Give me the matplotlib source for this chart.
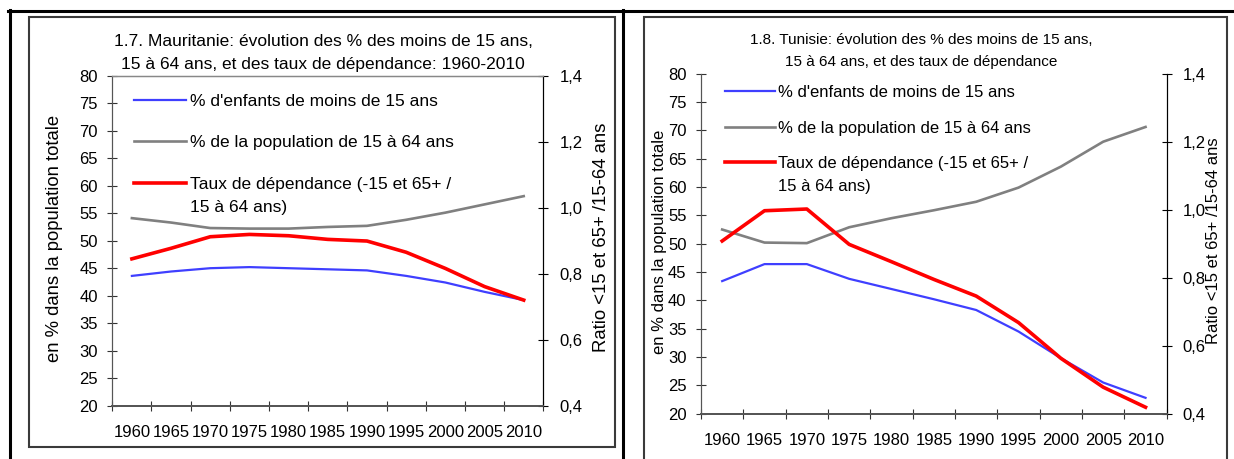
import numpy as np
import matplotlib.pyplot as plt
from matplotlib.lines import Line2D
from matplotlib.patches import Rectangle
from matplotlib.ticker import FixedLocator, FuncFormatter

plt.rcParams['font.family'] = ['Liberation Sans', 'DejaVu Sans']

years = [1960, 1965, 1970, 1975, 1980, 1985, 1990, 1995, 2000, 2005, 2010]

# Mauritanie
mrt_enfants = [43.6, 44.4, 45.0, 45.2, 45.0, 44.8, 44.6, 43.6, 42.4, 40.7, 39.2]
mrt_actifs = [54.1, 53.3, 52.3, 52.2, 52.2, 52.5, 52.7, 53.8, 55.1, 56.6, 58.1]
mrt_dep = [0.845, 0.877, 0.912, 0.919, 0.915, 0.904, 0.899, 0.865, 0.816, 0.761, 0.72]

# Tunisie
tun_enfants = [43.4, 46.4, 46.4, 43.8, 42.0, 40.2, 38.3, 34.5, 29.8, 25.5, 22.8]
tun_actifs = [52.5, 50.2, 50.1, 52.9, 54.5, 55.9, 57.4, 59.9, 63.6, 68.0, 70.6]
tun_dep = [0.908, 0.997, 1.002, 0.898, 0.847, 0.795, 0.746, 0.668, 0.563, 0.478, 0.419]

lbl_enfants = "% d'enfants de moins de 15 ans"
lbl_actifs = "% de la population de 15 à 64 ans"
lbl_dep = "Taux de dépendance (-15 et 65+ /"
lbl_dep2 = "15 à 64 ans)"

W, H = 1234, 459


def fx(px):
    return px / W


def fy(py):
    return 1 - py / H


def panel(fig, rect, title, title_xy, series, ylab_pos, rlab_pos, top_line,
          leg_anchor, leg_spacing, fs):
    enfants, actifs, dep = series
    ax = fig.add_axes(rect)
    ax2 = ax.twinx()
    x = np.arange(len(years))

    p1, = ax.plot(x, enfants, color='#3f3fff', lw=1.6)
    p2, = ax.plot(x, actifs, color='#808080', lw=1.9)
    p3, = ax2.plot(x, dep, color='#ff0000', lw=2.6)

    ax.set_xlim(-0.5, len(years) - 0.5)
    ax.set_ylim(20, 80)
    ax.set_yticks(np.arange(20, 81, 5))
    ax2.set_ylim(0.4, 1.4)
    ax2.set_yticks([0.4, 0.6, 0.8, 1.0, 1.2, 1.4])
    ax2.yaxis.set_major_formatter(FuncFormatter(lambda v, p: f'{v:.1f}'.replace('.', ',')))

    ax.set_xticks(x)
    ax.set_xticklabels([str(y) for y in years])
    ax.xaxis.set_minor_locator(FixedLocator(np.arange(-0.5, len(years), 1.0)))
    ax.tick_params(axis='x', which='major', length=0, pad=14, labelsize=fs['tick'])
    ax.tick_params(axis='x', which='minor', direction='inout', length=7, width=0.8, color='#333333')
    ax.tick_params(axis='y', direction='inout', length=7, width=0.8, pad=7, labelsize=fs['tick'], color='#333333')
    ax2.tick_params(axis='y', direction='inout', length=7, width=0.8, pad=8, labelsize=fs['tick'])

    for a in (ax, ax2):
        a.spines['left'].set_color('#555555')
        a.spines['bottom'].set_color('#555555')
        a.spines['bottom'].set_linewidth(1.3)
        a.spines['right'].set_color('#000000')
        a.spines['right'].set_linewidth(0.8)
        a.spines['top'].set_visible(top_line)
        a.spines['top'].set_color('#888888')
        a.spines['top'].set_linewidth(0.9)
        a.set_facecolor('none')

    fig.text(fx(ylab_pos[0]), fy(ylab_pos[1]), 'en % dans la population totale',
             rotation=90, ha='center', va='center', fontsize=fs['label'])
    fig.text(fx(rlab_pos[0]), fy(rlab_pos[1]), 'Ratio <15 et 65+ /15-64 ans',
             rotation=90, ha='center', va='center', fontsize=fs['label'])
    fig.text(fx(title_xy[0]), fy(title_xy[1]), title, ha='center', va='center',
             fontsize=fs['title'], linespacing=fs['ls'])

    leg = ax2.legend([p1, p2, p3], [lbl_enfants, lbl_actifs, lbl_dep], loc='upper left',
                     bbox_to_anchor=leg_anchor, frameon=False, fontsize=fs['legend'], borderpad=0,
                     borderaxespad=0, handlelength=3.0, handletextpad=0.2,
                     labelspacing=leg_spacing)
    return leg


fig = plt.figure(figsize=(W / 100, H / 100), dpi=100)

leg_l = panel(fig, [fx(112.3), fy(405.7), fx(543.3 - 112.3), (405.7 - 75.7) / H],
              "1.7. Mauritanie: évolution des % des moins de 15 ans,\n15 à 64 ans, et des taux de dépendance: 1960-2010",
              (323, 53.3), (mrt_enfants, mrt_actifs, mrt_dep), (54.5, 238.5), (601, 237),
              True, (0.051, 0.946), 1.52,
              dict(tick=12, title=12.5, legend=12.5, label=13.3, ls=1.68))

leg_r = panel(fig, [fx(701), fy(413.7), fx(1166.7 - 701), (413.7 - 73.7) / H],
              "1.8. Tunisie: évolution des % des moins de 15 ans,\n15 à 64 ans, et des taux de dépendance",
              (921, 50.8), (tun_enfants, tun_actifs, tun_dep), (659, 241.5), (1213, 241),
              False, (0.0515, 0.966), 1.22,
              dict(tick=12, title=11, legend=12, label=12, ls=1.72))

# second line of the long legend label, placed under the first one
fig.canvas.draw()
for leg, gap in ((leg_l, 23), (leg_r, 23.3)):
    t = leg.get_texts()[2]
    bb = t.get_window_extent()
    fig.text(bb.x0, bb.y1 - gap, lbl_dep2, transform=None, ha='left', va='top',
             fontsize=t.get_fontsize())

# panel frames
fig.add_artist(Rectangle((fx(29), fy(447)), fx(615 - 29), (447 - 16.5) / H,
                         transform=fig.transFigure, fill=False, ec='#3a3a3a', lw=1.5))
fig.add_artist(Rectangle((fx(643.5), fy(470)), fx(1227 - 643.5), (470 - 16.5) / H,
                         transform=fig.transFigure, fill=False, ec='#3a3a3a', lw=1.5))

# outer table lines
fig.add_artist(Line2D([fx(9.5), fx(9.5)], [fy(10), 0], transform=fig.transFigure, color='black', lw=2.2))
fig.add_artist(Line2D([fx(8), 1], [fy(11.3), fy(11.3)], transform=fig.transFigure, color='black', lw=2.2))
fig.add_artist(Line2D([fx(623), fx(623)], [fy(10), 0], transform=fig.transFigure, color='black', lw=2.2))

fig.savefig('out.png', dpi=100)
